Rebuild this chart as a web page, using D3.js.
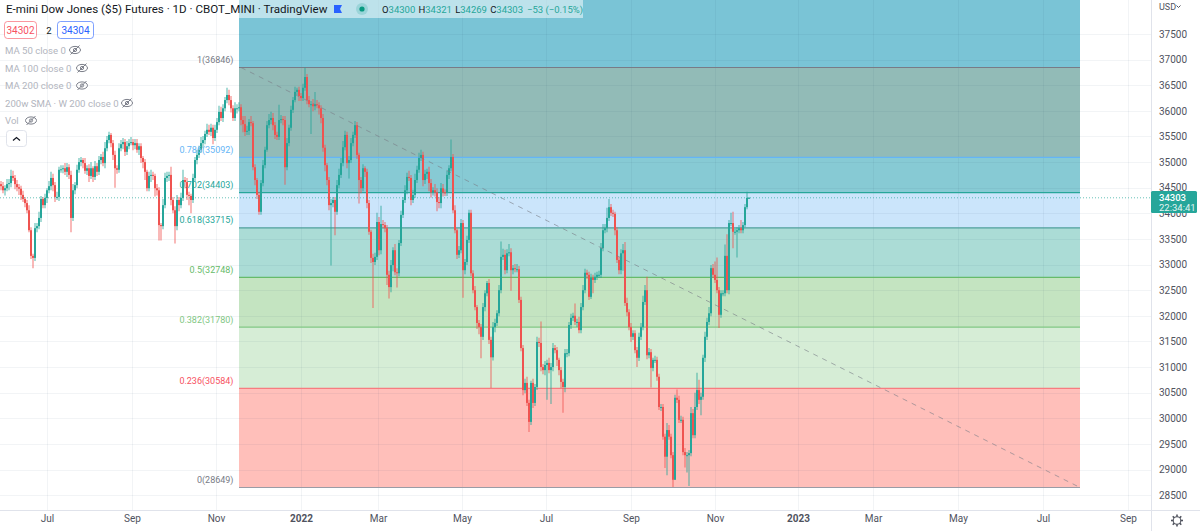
<!DOCTYPE html>
<html><head><meta charset="utf-8">
<script src="https://cdn.jsdelivr.net/npm/d3@7/dist/d3.min.js"></script>
<style>html,body{margin:0;padding:0;background:#fff;overflow:hidden}svg{display:block}text{font-family:Roboto,"Open Sans",sans-serif}</style>
</head><body><svg id="c" width="1200" height="531"></svg>
<script>
const closes=[34530,34450,34490,34570,34590,34730,34690,34570,34510,34480,
34360,34280,34200,34060,33670,33170,33130,33710,33750,33910,
34280,34160,34300,34450,34530,34690,34550,34320,34320,34850,
34860,34880,34810,34900,34750,33910,34450,34550,34850,35000,
35040,34980,34830,34880,34730,34880,34710,34920,34810,35040,
35100,34980,35270,35430,35530,35370,35140,34880,34850,35270,
35350,35390,35200,35310,35370,35390,35330,35370,35240,35310,
35080,35000,34810,34490,34730,34750,34730,34490,34450,33770,
33750,34160,34690,34730,34750,34260,34060,33750,34260,34160,
34300,34650,34610,34360,34340,34260,34690,35040,35140,35240,
35370,35430,35550,35630,35590,35670,35470,35630,35780,35980,
35860,36050,36210,36310,36210,36050,35860,36050,36050,36070,
35820,35740,35590,35610,35780,35760,34900,34650,34360,34030,
34590,34940,35240,35720,35820,35860,35720,35530,35490,35820,
35840,35820,34900,35370,35670,36020,36210,36370,36410,36290,
36250,36450,36660,36210,36130,36130,36090,36130,36110,36050,
35860,35280,34940,34650,34160,34200,34260,34030,34550,34750,
34980,35290,35530,34980,35040,35370,35530,35720,35140,34650,
34490,34880,34810,34200,33640,33130,33050,33150,33830,33280,
33790,33770,33710,32800,32560,32990,33280,32850,32830,33420,
33970,34260,34450,34710,34690,34260,34360,34650,34850,35080,
35140,34650,34770,34810,34590,34410,34450,34410,34220,34200,
34490,34410,34400,34750,34880,35100,34060,33670,33190,33280,
33810,32890,33050,33480,34010,32830,32500,32170,31860,31780,
31590,32170,32440,32640,31530,31190,31780,31860,32050,32500,
33150,33190,32890,33220,33240,32890,32930,32910,32910,32310,
31370,30550,30690,30300,29930,30690,30300,30610,31490,31470,
31000,30940,31040,31080,30940,31000,31370,31330,31140,30940,
30710,30610,31270,31270,31820,31960,32000,31880,31880,31720,
32170,32500,32840,32800,32370,32740,32700,32760,32800,32800,
33320,33670,33710,33910,34120,34010,33990,33670,33090,32890,
33220,33280,32250,32070,31780,31590,31660,31330,31180,31590,
31780,32270,32500,31230,31290,30980,31140,31140,30810,30220,
30220,29640,29250,29770,29640,29280,28800,30400,30360,29970,
29970,29340,29280,29280,29320,30100,29670,30220,30550,30360,
30420,31180,31590,31880,32050,32930,32800,32700,32500,32020,
32440,32440,33170,32500,33810,33810,33640,33640,33670,33710,
33670,33770,34120,34300,34303];
const wickUp=[60,80,60,100,80,120,100,60,80,60,
60,80,40,60,100,60,40,100,60,120,
60,40,80,40,100,120,80,60,100,60,
80,60,100,80,60,80,120,60,100,80,
60,40,100,60,80,120,40,100,60,80,
60,100,120,80,60,40,60,80,60,100,
80,80,60,100,80,100,60,80,80,60,
60,40,60,40,80,100,60,40,80,60,
40,120,100,80,60,160,60,80,100,60,
100,200,60,80,60,40,80,60,100,80,
120,80,60,120,100,80,60,100,80,120,
100,80,60,140,100,80,60,120,80,100,
60,80,160,100,60,120,40,60,40,60,
60,100,60,80,120,120,100,60,60,300,
80,60,80,100,60,80,60,100,40,60,
60,80,180,60,80,60,100,240,80,60,
60,80,60,40,60,80,60,60,100,120,
100,120,80,60,80,100,60,80,60,40,
60,80,40,60,60,40,80,80,180,100,
360,80,60,60,80,100,60,120,80,60,
80,60,100,80,120,60,100,120,80,100,
100,60,80,60,100,80,60,120,80,100,
100,80,60,80,60,340,60,100,40,80,
80,60,60,80,60,60,60,80,40,60,
60,80,60,40,80,60,100,80,60,100,
300,120,100,80,160,80,60,80,100,60,
60,60,80,120,60,40,80,60,100,80,
420,60,80,60,100,80,100,60,60,40,
60,60,80,80,60,80,60,240,60,100,
80,100,80,60,60,80,60,80,60,80,
100,120,80,200,160,60,60,40,60,60,
80,120,160,100,60,80,60,60,60,80,
80,120,100,260,80,60,40,80,60,60,
60,60,60,140,100,60,60,60,160,80,
80,60,80,60,60,120,80,280,340,200,
80,60,100,80,120,60,80,260,440,60,
60,60,220,420,60,200,220,60,60,60,
160,60,60,120,18];
const wickDown=[80,60,100,60,120,80,60,100,80,120,
100,60,80,60,40,60,200,60,80,60,
80,60,60,100,60,80,120,100,60,80,
60,80,60,100,80,280,60,80,60,60,
80,100,60,80,120,60,100,60,80,60,
80,60,100,60,60,80,100,380,80,60,
60,100,80,60,60,40,100,80,60,100,
100,120,160,60,60,120,80,160,100,300,
280,60,60,80,100,100,60,340,80,120,
60,60,120,100,180,260,60,60,80,60,
60,100,80,60,60,80,120,60,60,60,
60,80,60,60,100,80,60,60,100,60,
100,160,80,60,80,60,60,100,80,60,
60,60,60,40,60,80,100,80,60,60,
60,100,340,60,60,60,60,40,60,100,
60,60,60,80,60,580,100,80,60,120,
100,80,120,100,100,1180,80,460,60,60,
60,60,60,100,300,60,60,60,80,460,
100,60,100,100,60,100,900,60,60,100,
80,60,80,200,220,100,120,60,280,60,
60,60,60,80,60,100,60,60,60,60,
60,120,80,100,160,100,60,80,180,100,
100,80,60,60,80,60,60,60,80,60,
60,540,80,60,60,60,60,60,120,140,
420,60,80,60,80,600,60,100,60,60,
60,60,80,60,60,400,80,60,60,60,
60,100,60,60,200,60,100,60,60,80,
80,80,100,680,60,660,80,60,120,100,
120,500,100,80,60,80,60,60,100,60,
60,60,60,80,60,40,260,60,60,60,
60,60,60,80,60,60,60,100,60,80,
80,340,60,80,60,100,60,60,180,60,
60,60,60,80,60,380,60,60,80,60,
80,60,220,360,60,60,140,0,60,60,
60,60,240,340,600,60,60,60,60,80,
300,60,80,60,60,60,60,60,60,260,
60,60,60,60,80,60,320,60,500,60,
60,60,40,40,20];

const fibRatios=["1","0.786","0.702","0.618","0.5","0.382","0.236","0"];
const fibPrices=[36846,35092,34403,33715,32748,31780,30584,28649];
const fibLine=["#787b86","#64b5f6","#26a69a","#4f9f9c","#66bb6a","#81c784","#f77c80","#9a9ca6"];
const fibLabelColor=["#787b86","#64b5f6","#26a69a","#26a69a","#66bb6a","#81c784","#f7525f","#787b86"];
const fibBandTop=[38200,36846,35092,34403,33715,32748,31780,30584];
const fibBandColor=["#7ac4d6","#92bbb7","#87cad4","#cbe5fb","#abdcd6","#c4e4c1","#d6edd6","#ffbfba"];
const fibStartIdx=119.5, fibEndIdx=540;
const priceTicks=[28500,29000,29500,30000,30500,31000,31500,32000,32500,33000,33500,34000,34500,35000,35500,36000,36500,37000,37500];
const timeLabels=["Jul","Sep","Nov","2022","Mar","May","Jul","Sep","Nov","2023","Mar","May","Jul","Sep"];
const timeIdx=[23.5,66,108,150.5,189,231,273,315.5,357.5,399,436.5,479,521.5,564];
const legendRows=["MA 50 close 0","MA 100 close 0","MA 200 close 0","200w SMA \u00b7 W 200 close 0","Vol"];
const legendEyeX=[75,82,82,127,31];
const legendY=[50,68,85.5,103,120.5];
const ohlcLabels=["O","H","L","C"];
const ohlcValues=[34300,34321,34269,34303];

const W=1200,H=531,paneR=1151,paneB=510;
const x=d3.scaleLinear().domain([0,1]).range([0,2]);
const y=d3.scaleLinear().domain([28649,36846]).range([487.5,67.5]);
const svg=d3.select("#c");
svg.append("defs").append("clipPath").attr("id","pane").append("rect").attr("width",paneR).attr("height",paneB);
const pane=svg.append("g").attr("clip-path","url(#pane)");

// fib bands
pane.append("g").selectAll("rect").data(fibBandTop).join("rect")
 .attr("x",x(fibStartIdx)).attr("width",x(fibEndIdx)-x(fibStartIdx))
 .attr("y",d=>y(d)).attr("height",(d,i)=>y(fibPrices[i])-y(d)).attr("fill",(d,i)=>fibBandColor[i]);
// grid
const grid=pane.append("g").attr("stroke","rgba(42,70,110,0.06)").attr("stroke-width",1);
grid.selectAll(".h").data(priceTicks).join("line").attr("x1",0).attr("x2",paneR)
 .attr("y1",d=>Math.round(y(d))+.5).attr("y2",d=>Math.round(y(d))+.5);
grid.selectAll(".v").data(timeIdx).join("line").attr("y1",0).attr("y2",paneB)
 .attr("x1",d=>Math.round(x(d))+.5).attr("x2",d=>Math.round(x(d))+.5);
// fib lines
pane.append("g").selectAll("line").data(fibPrices).join("line")
 .attr("x1",x(fibStartIdx)).attr("x2",x(fibEndIdx)).attr("y1",d=>y(d)).attr("y2",d=>y(d))
 .attr("stroke",(d,i)=>fibLine[i]).attr("stroke-width",1.2);
// candles
const candles=closes.map((c,i)=>{const o=i?closes[i-1]:c+40;return {i,o,c,h:Math.max(o,c)+wickUp[i],l:Math.min(o,c)-wickDown[i]};});
const col=d=>d.c>=d.o?"#26a69a":"#ef5350";
const g=pane.append("g");
g.selectAll(".w").data(candles).join("line").attr("x1",d=>x(d.i)+1).attr("x2",d=>x(d.i)+1)
 .attr("y1",d=>y(d.h)).attr("y2",d=>y(d.l)).attr("stroke",col).attr("stroke-width",1.8).attr("stroke-opacity",.45);
g.selectAll(".b").data(candles).join("rect").attr("x",d=>x(d.i)).attr("width",2)
 .attr("y",d=>y(Math.max(d.o,d.c))).attr("height",d=>Math.max(1,Math.abs(y(d.o)-y(d.c)))).attr("fill",col);
// trend line
pane.append("line").attr("x1",x(fibStartIdx)+2).attr("x2",x(fibEndIdx)).attr("y1",y(fibPrices[0])).attr("y2",y(fibPrices[7]))
 .attr("stroke","#787b86").attr("stroke-width",1).attr("stroke-dasharray","5 5").attr("stroke-opacity",.6);
// current price line
pane.append("line").attr("x1",0).attr("x2",paneR).attr("y1",y(34303)).attr("y2",y(34303))
 .attr("stroke","#26a69a").attr("stroke-width",1).attr("stroke-dasharray","1 2").attr("stroke-opacity",.7);
// fib labels
svg.append("g").selectAll("text").data(fibPrices).join("text")
 .attr("x",233.5).attr("y",d=>y(d)-4.5).attr("text-anchor","end").attr("font-size",9)
 .attr("fill",(d,i)=>fibLabelColor[i]).text((d,i)=>`${fibRatios[i]}(${d})`);

// axes frame
svg.append("rect").attr("x",paneR).attr("y",0).attr("width",W-paneR).attr("height",H).attr("fill","#fff");
svg.append("rect").attr("x",0).attr("y",paneB).attr("width",W).attr("height",H-paneB).attr("fill","#fff");
svg.append("line").attr("x1",paneR+.5).attr("x2",paneR+.5).attr("y1",0).attr("y2",H).attr("stroke","#e0e3eb");
svg.append("line").attr("x1",0).attr("x2",W).attr("y1",paneB+.5).attr("y2",paneB+.5).attr("stroke","#e0e3eb");
const yAxis=svg.append("g").attr("transform",`translate(${paneR},0)`).call(d3.axisRight(y).tickValues(priceTicks).tickSize(0).tickPadding(8).tickFormat(d3.format("d")));
yAxis.select(".domain").remove();
yAxis.selectAll("text").attr("font-size",10).attr("fill","#50535e").style("font-family","Roboto");
const xAxis=svg.append("g").attr("transform",`translate(0,${paneB})`).call(d3.axisBottom(x).tickValues(timeIdx).tickSize(0).tickPadding(5).tickFormat((d,i)=>timeLabels[i]));
xAxis.select(".domain").remove();
xAxis.selectAll("text").attr("font-size",10).attr("fill","#50535e").style("font-family","Roboto")
 .attr("font-weight",(d,i)=>/^20/.test(timeLabels[i])?700:400);
svg.append("text").attr("x",1159).attr("y",9.5).attr("font-size",9).attr("fill","#50535e").text("USD");
svg.append("path").attr("d","M1176.5 5.5l2 2 2-2").attr("fill","none").attr("stroke","#50535e");
// price tag
svg.append("rect").attr("x",paneR).attr("y",191).attr("width",46).attr("height",22).attr("rx",1.5).attr("fill","#26a69a");
svg.append("text").attr("x",1159).attr("y",200.5).attr("font-size",9.5).attr("font-weight",500).attr("fill","#fff").text("34303");
svg.append("text").attr("x",1159).attr("y",210.5).attr("font-size",9.5).attr("fill","#e4f5f2").text("22:34:41");
// gear
const gear=svg.append("g").attr("transform","translate(1177,520.5)").attr("fill","none").attr("stroke","#50535e").attr("stroke-width",1.1);
gear.append("circle").attr("r",3.8);
d3.range(8).forEach(k=>gear.append("line").attr("y1",-3.8).attr("y2",-6).attr("stroke-width",1.6).attr("transform",`rotate(${k*45})`));

// legend
svg.append("rect").attr("x",239).attr("y",0).attr("width",344).attr("height",18).attr("fill","#fff").attr("fill-opacity",.5);
svg.append("text").attr("x",6).attr("y",13).attr("font-size",11.6).attr("fill","#131722").text("E-mini Dow Jones ($5) Futures \u00b7 1D \u00b7 CBOT_MINI \u00b7 TradingView");
svg.append("path").attr("d","M334 5h8l-2 4 2 4h-8z").attr("fill","#2962ff");
svg.append("circle").attr("cx",362).attr("cy",9).attr("r",6).attr("fill","#26a69a").attr("fill-opacity",.22);
svg.append("circle").attr("cx",362).attr("cy",9).attr("r",2.6).attr("fill","#089981");
const oh=svg.append("text").attr("x",382).attr("y",12.5).attr("font-size",9.5);
ohlcLabels.forEach((l,i)=>{oh.append("tspan").attr("fill","#131722").attr("dx",i?3.2:0).text(l);oh.append("tspan").attr("fill","#26a69a").text(ohlcValues[i]);});
oh.append("tspan").attr("fill","#26a69a").attr("dx",4).text("\u221253 (\u22120.15%)");
// buttons
[[4,32,"#f7525f","34302"],[57,36,"#2962ff","34304"]].forEach(b=>{
 svg.append("rect").attr("x",b[0]+.5).attr("y",21.5).attr("width",b[1]).attr("height",17).attr("rx",3).attr("fill","#fff").attr("stroke",b[2]).attr("stroke-opacity",.6);
 svg.append("text").attr("x",b[0]+b[1]/2+.5).attr("y",33.5).attr("text-anchor","middle").attr("font-size",10).attr("fill",b[2]).text(b[3]);
});
svg.append("text").attr("x",49).attr("y",33.5).attr("text-anchor","middle").attr("font-size",9.5).attr("fill","#131722").text("2");
// legend rows
legendRows.forEach((t,i)=>{
 svg.append("text").attr("x",5).attr("y",legendY[i]+3.5).attr("font-size",9.6).attr("fill","#b2b5be").text(t);
 const e=svg.append("g").attr("transform",`translate(${legendEyeX[i]},${legendY[i]})`).attr("fill","none").attr("stroke","#7c7f8a").attr("stroke-width",1);
 e.append("ellipse").attr("rx",5.5).attr("ry",3.6);
 e.append("circle").attr("r",1.6);
 e.append("line").attr("x1",-4.5).attr("y1",4.5).attr("x2",4.5).attr("y2",-4.5);
});
svg.append("rect").attr("x",6.5).attr("y",130.5).attr("width",20).attr("height",16).attr("rx",3).attr("fill","#fff").attr("stroke","#e0e3eb");
svg.append("path").attr("d","M13 140.5l3.5-3 3.5 3").attr("fill","none").attr("stroke","#131722").attr("stroke-width",1.2);
</script></body></html>
